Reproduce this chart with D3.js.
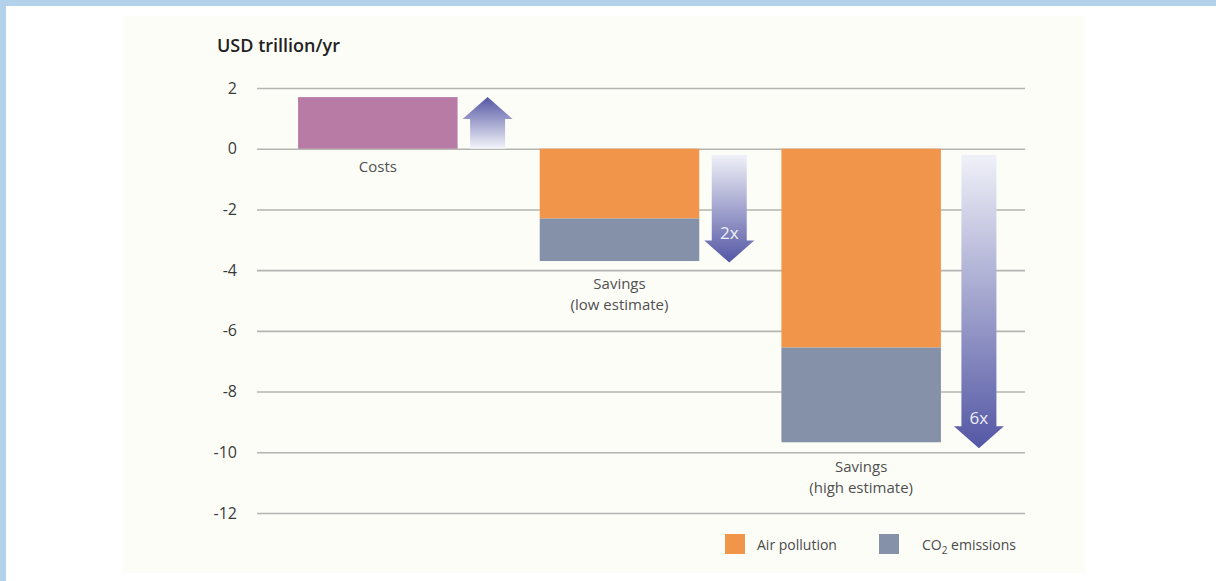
<!DOCTYPE html>
<html>
<head>
<meta charset="utf-8">
<script src="https://cdn.jsdelivr.net/npm/d3@7"></script>
<style>
  html, body { margin: 0; padding: 0; background: #b3d1ea; }
  svg { display: block; }
</style>
</head>
<body>
<div id="chart"></div>
<script>
const categories = ["Costs", "Savings (low estimate)", "Savings (high estimate)"]
const categoryLines = [["Costs"], ["Savings", "(low estimate)"], ["Savings", "(high estimate)"]]
const costValues = [1.7, 0, 0]
const airPollution = [0, -2.3, -6.55]
const co2Emissions = [0, -1.4, -3.12]
const arrowFrom = [0, -0.2, -0.2]
const arrowTo = [1.7, -3.75, -9.87]
const arrowLabels = ["", "2x", "6x"]
const yTicks = [2, 0, -2, -4, -6, -8, -10, -12]
const seriesNames = ["Air pollution", "CO2 emissions"]

const width = 1216
const height = 581
const font = "'Open Sans', sans-serif"

const svg = d3.select("#chart")
  .append("svg")
  .attr("width", width)
  .attr("height", height)

// frame: blue edge, white sheet, off-white panel
svg.append("rect").attr("width", width).attr("height", height).attr("fill", "#b3d1ea")
svg.append("rect").attr("x", 6).attr("y", 6).attr("width", width - 6).attr("height", height - 6).attr("fill", "#fff")
svg.append("rect").attr("x", 123).attr("y", 16).attr("width", 962).attr("height", 557).attr("fill", "#fdfdf8")

const x = d3.scaleBand()
  .domain(categories)
  .range([257, 982])
  .paddingInner(0.34)
  .paddingOuter(0.17)

const y = d3.scaleLinear()
  .domain([-12, 2])
  .range([513, 88])

// gridlines + tick labels
const yAxis = svg.append("g")
  .attr("transform", "translate(257,0)")
  .call(d3.axisRight(y).tickValues(yTicks).tickSize(768).tickFormat(d3.format("d")))
yAxis.select(".domain").remove()
yAxis.selectAll(".tick line").attr("stroke", "#b4b4b0").attr("stroke-width", 1.6)
yAxis.selectAll(".tick text")
  .attr("x", -20)
  .attr("text-anchor", "end")
  .attr("fill", "#3a3a3a")
  .style("font-family", font)
  .style("font-size", "16px")
  .text(d => d < 0 ? "-" + Math.abs(d) : d)

svg.append("text")
  .attr("x", 217)
  .attr("y", 52)
  .attr("fill", "#222")
  .style("font-family", font)
  .style("font-size", "18px")
  .style("font-weight", "600")
  .text("USD trillion/yr")

// bars
const bars = categories.map((c, i) => ({
  cat: c,
  cost: costValues[i],
  air: airPollution[i],
  co2: co2Emissions[i]
}))

svg.selectAll(".cost").data(bars.filter(d => d.cost > 0)).enter()
  .append("rect")
  .attr("x", d => x(d.cat))
  .attr("width", x.bandwidth())
  .attr("y", d => y(d.cost))
  .attr("height", d => y(0) - y(d.cost))
  .attr("fill", "#b77ba5")

svg.selectAll(".air").data(bars.filter(d => d.air < 0)).enter()
  .append("rect")
  .attr("x", d => x(d.cat))
  .attr("width", x.bandwidth())
  .attr("y", y(0))
  .attr("height", d => y(d.air) - y(0))
  .attr("fill", "#f0954a")

svg.selectAll(".co2").data(bars.filter(d => d.co2 < 0)).enter()
  .append("rect")
  .attr("x", d => x(d.cat))
  .attr("width", x.bandwidth())
  .attr("y", d => y(d.air))
  .attr("height", d => y(d.air + d.co2) - y(d.air))
  .attr("fill", "#8591a8")

// arrows
const defs = svg.append("defs")
const gUp = defs.append("linearGradient").attr("id", "gradUp").attr("x1", 0).attr("x2", 0).attr("y1", 0).attr("y2", 1)
gUp.append("stop").attr("offset", "0%").attr("stop-color", "#5457a4")
gUp.append("stop").attr("offset", "100%").attr("stop-color", "#f4f4fa")
const gDown = defs.append("linearGradient").attr("id", "gradDown").attr("x1", 0).attr("x2", 0).attr("y1", 0).attr("y2", 1)
gDown.append("stop").attr("offset", "0%").attr("stop-color", "#f0f1f8")
gDown.append("stop").attr("offset", "100%").attr("stop-color", "#5457a4")

const arrows = categories.map((c, i) => ({
  cat: c,
  from: arrowFrom[i],
  to: arrowTo[i],
  label: arrowLabels[i],
  gap: i === 2 ? 38 : 30
}))

function arrowPath(d) {
  const cx = x(d.cat) + x.bandwidth() + d.gap
  const y0 = y(d.from)
  const y1 = y(d.to)
  const dir = y1 < y0 ? -1 : 1
  const shaft = 17.5
  const head = 25
  const headLen = 22
  const yb = y1 - dir * headLen
  return `M${cx - shaft},${y0} L${cx - shaft},${yb} L${cx - head},${yb} L${cx},${y1} ` +
    `L${cx + head},${yb} L${cx + shaft},${yb} L${cx + shaft},${y0} Z`
}

svg.selectAll(".arrow").data(arrows).enter()
  .append("path")
  .attr("d", arrowPath)
  .attr("fill", d => d.to > d.from ? "url(#gradUp)" : "url(#gradDown)")

svg.selectAll(".arrow-label").data(arrows.filter(d => d.label)).enter()
  .append("text")
  .attr("x", d => x(d.cat) + x.bandwidth() + d.gap)
  .attr("y", d => y(d.to) - 24)
  .attr("text-anchor", "middle")
  .attr("fill", "#eef0f8")
  .style("font-family", font)
  .style("font-size", "17px")
  .text(d => d.label)

// category labels, one text per line
const labelY = [172, 289, 472]
categories.forEach((c, i) => {
  categoryLines[i].forEach((line, j) => {
    svg.append("text")
      .attr("x", x(c) + x.bandwidth() / 2)
      .attr("y", labelY[i] + j * 21)
      .attr("text-anchor", "middle")
      .attr("fill", "#505050")
      .style("font-family", font)
      .style("font-size", "15px")
      .text(line)
  })
})

// legend
const legend = svg.append("g").attr("transform", "translate(725,534)")
const legendColors = ["#f0954a", "#8591a8"]
const legendX = [0, 154]
seriesNames.forEach((name, i) => {
  const g = legend.append("g").attr("transform", `translate(${legendX[i]},0)`)
  g.append("rect").attr("width", 20).attr("height", 20).attr("fill", legendColors[i])
  const t = g.append("text")
    .attr("x", i === 0 ? 32 : 43)
    .attr("y", 16)
    .attr("fill", "#4a4a4a")
    .style("font-family", font)
    .style("font-size", "14px")
  if (name.startsWith("CO2")) {
    t.append("tspan").text("CO")
    t.append("tspan").attr("dy", 4).style("font-size", "10px").text("2")
    t.append("tspan").attr("dy", -4).text(name.slice(3))
  } else {
    t.text(name)
  }
})
</script>
</body>
</html>
